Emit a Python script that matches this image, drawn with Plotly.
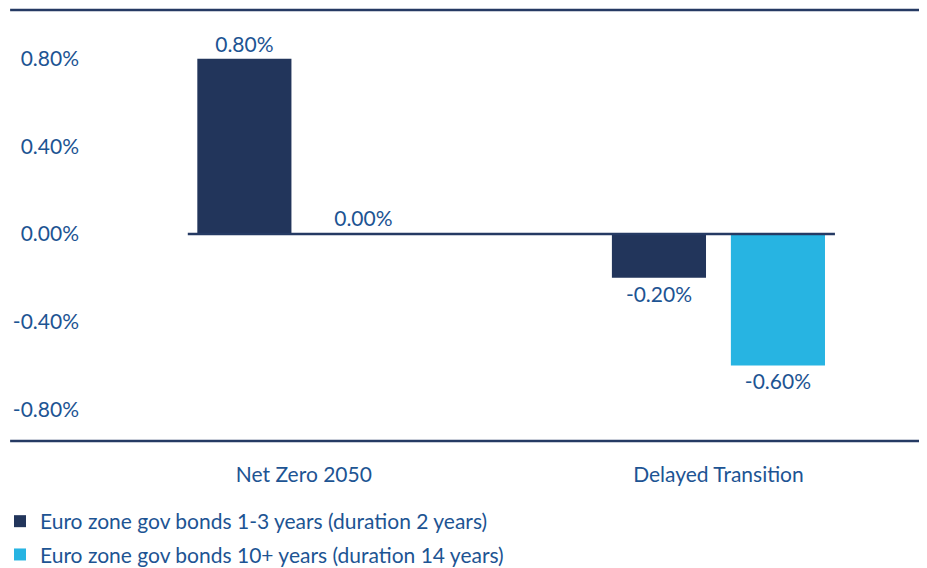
import plotly.graph_objects as go

categories = ["Net Zero 2050", "Delayed Transition"]
series_names = ["Euro zone gov bonds 1-3 years (duration 2 years)",
                "Euro zone gov bonds 10+ years (duration 14 years)"]
short_bonds = [0.80, -0.20]
long_bonds = [0.004, -0.60]
y_ticks = [0.8, 0.4, 0.0, -0.4, -0.8]
y_tick_labels = ["0.80%", "0.40%", "0.00%", "-0.40%", "-0.80%"]

DARK = "#22355B"
LIGHT = "#27B4E2"
TEXT = "#1D5493"
LINE = "#253A63"
FONT = "Lato"

x_pos = list(range(len(categories)))

fig = go.Figure()
for i, (name, vals, col) in enumerate([(series_names[0], short_bonds, DARK),
                                       (series_names[1], long_bonds, LIGHT)]):
    fig.add_trace(go.Bar(
        x=x_pos, y=vals, name=name, legendgroup=f"g{i}",
        marker=dict(color=col, line=dict(width=0)),
        texttemplate="%{y:.2f}%", textposition="outside", cliponaxis=False,
        constraintext="none",
        textfont=dict(color=TEXT, size=21, family=FONT),
    ))

fig.update_layout(
    width=927, height=568,
    margin=dict(l=72, r=13, t=2, b=135, autoexpand=False),
    paper_bgcolor="white", plot_bgcolor="white",
    barmode="group", bargap=0.426, bargroupgap=0.209,
    font=dict(family=FONT, color=TEXT, size=21),
    showlegend=True,
    legend=dict(xref="paper", yref="container", x=-0.095, y=0.132,
                xanchor="left", yanchor="top", font=dict(size=21, color=TEXT, family=FONT),
                traceorder="grouped", tracegroupgap=3, itemwidth=30,
                bgcolor="rgba(0,0,0,0)"),
    xaxis=dict(range=[-0.540, 1.491], tickvals=x_pos, ticktext=categories,
               showgrid=False, zeroline=False, showline=False,
               ticks="outside", ticklen=15, tickcolor="rgba(0,0,0,0)",
               tickfont=dict(size=21, color=TEXT, family=FONT)),
    yaxis=dict(range=[-0.945, 1.023], tickvals=y_ticks, ticktext=y_tick_labels,
               showgrid=False, zeroline=False, showline=False,
               ticks="",
               tickfont=dict(size=21, color=TEXT, family=FONT)),
    shapes=[
        dict(type="line", xref="paper", yref="paper", x0=-0.083, x1=1.0, y0=1, y1=1,
             line=dict(color=LINE, width=2.5)),
        dict(type="line", xref="paper", yref="paper", x0=-0.083, x1=1.0, y0=0, y1=0,
             line=dict(color=LINE, width=2.5)),
        dict(type="line", xref="x", yref="y", x0=-0.28, x1=1.281, y0=0, y1=0,
             line=dict(color=LINE, width=2.5), layer="above"),
    ],
)

fig.write_html("out.html")
